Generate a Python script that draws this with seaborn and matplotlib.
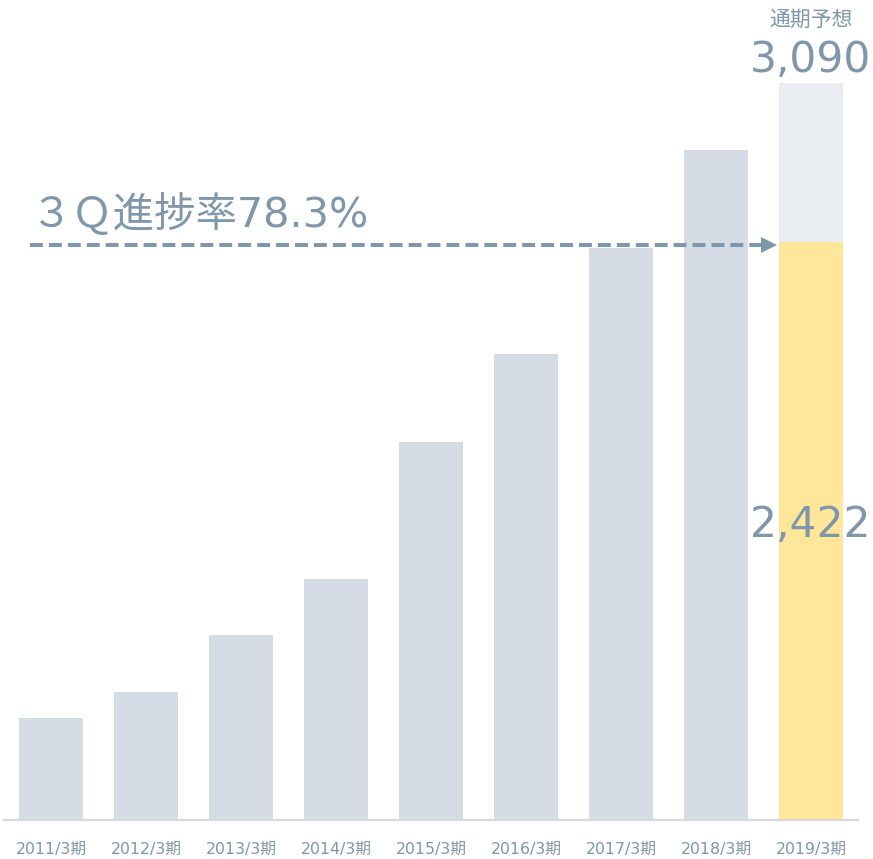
import matplotlib
matplotlib.use("Agg")
import matplotlib.pyplot as plt
import seaborn as sns
import pandas as pd
import numpy as np

categories = ["2011/3期", "2012/3期", "2013/3期", "2014/3期", "2015/3期",
              "2016/3期", "2017/3期", "2018/3期", "2019/3期"]
totals = [428, 537, 776, 1010, 1585, 1954, 2398, 2809, 3090]
progress_2019 = 2422
forecast_label = "通期予想"
forecast_text = "3,090"
progress_text = "2,422"
rate_text = "３Ｑ進捗率78.3%"

BAR = "#D6DCE5"
BAR_FC = "#E9ECF1"
YELLOW = "#FFE699"
TXT = "#7E97AA"

sns.set_theme(style="white")
plt.rcParams["font.family"] = ["DejaVu Sans", "Noto Sans CJK JP"]

fig = plt.figure(figsize=(8.73, 8.59), dpi=100)
ax = fig.add_axes([4 / 873, 39 / 859, 854 / 873, 820 / 859])

df = pd.DataFrame({"cat": categories, "val": totals})
palette = [BAR] * (len(categories) - 1) + [BAR_FC]
sns.barplot(data=df, x="cat", y="val", hue="cat", palette=palette, legend=False,
            order=categories, width=0.674, saturation=1, ax=ax, linewidth=0)

df2 = pd.DataFrame({"cat": categories,
                    "val": [np.nan] * (len(categories) - 1) + [progress_2019]})
sns.barplot(data=df2, x="cat", y="val", color=YELLOW, order=categories,
            width=0.674, saturation=1, ax=ax, linewidth=0)

ax.set_xlim(-0.495, len(categories) - 0.505)
ax.set_ylim(0, 3438)
for s in ["top", "right", "left"]:
    ax.spines[s].set_visible(False)
ax.spines["bottom"].set_color("#D9D9D9")
ax.spines["bottom"].set_linewidth(1.6)
ax.set_yticks([])
ax.set_xlabel("")
ax.set_ylabel("")
ax.tick_params(axis="x", length=0, pad=16, labelsize=11.3, labelcolor=TXT)

last = len(categories) - 1
ax.text(last, 1187, progress_text, ha="center", va="baseline",
        fontsize=30.5, color=TXT)
ax.text(last, 3136, forecast_text, ha="center", va="baseline",
        fontsize=30.5, color=TXT)
ax.text(last, 3355, forecast_label, ha="center", va="center",
        fontsize=15, color=TXT)

# progress arrow
y_arrow = progress_2019 - 12
ax.plot([-0.22, 7.50], [y_arrow, y_arrow], color=TXT, lw=2.9,
        dashes=(3.2, 1.5), solid_capstyle="butt", dash_capstyle="butt")
ax.plot([7.558], [y_arrow], marker=">", markersize=12, color=TXT, mew=0)
ax.text(-0.21, 2486, rate_text, ha="left", va="baseline",
        fontsize=29.8, color=TXT)

fig.savefig("out.png", dpi=100)
